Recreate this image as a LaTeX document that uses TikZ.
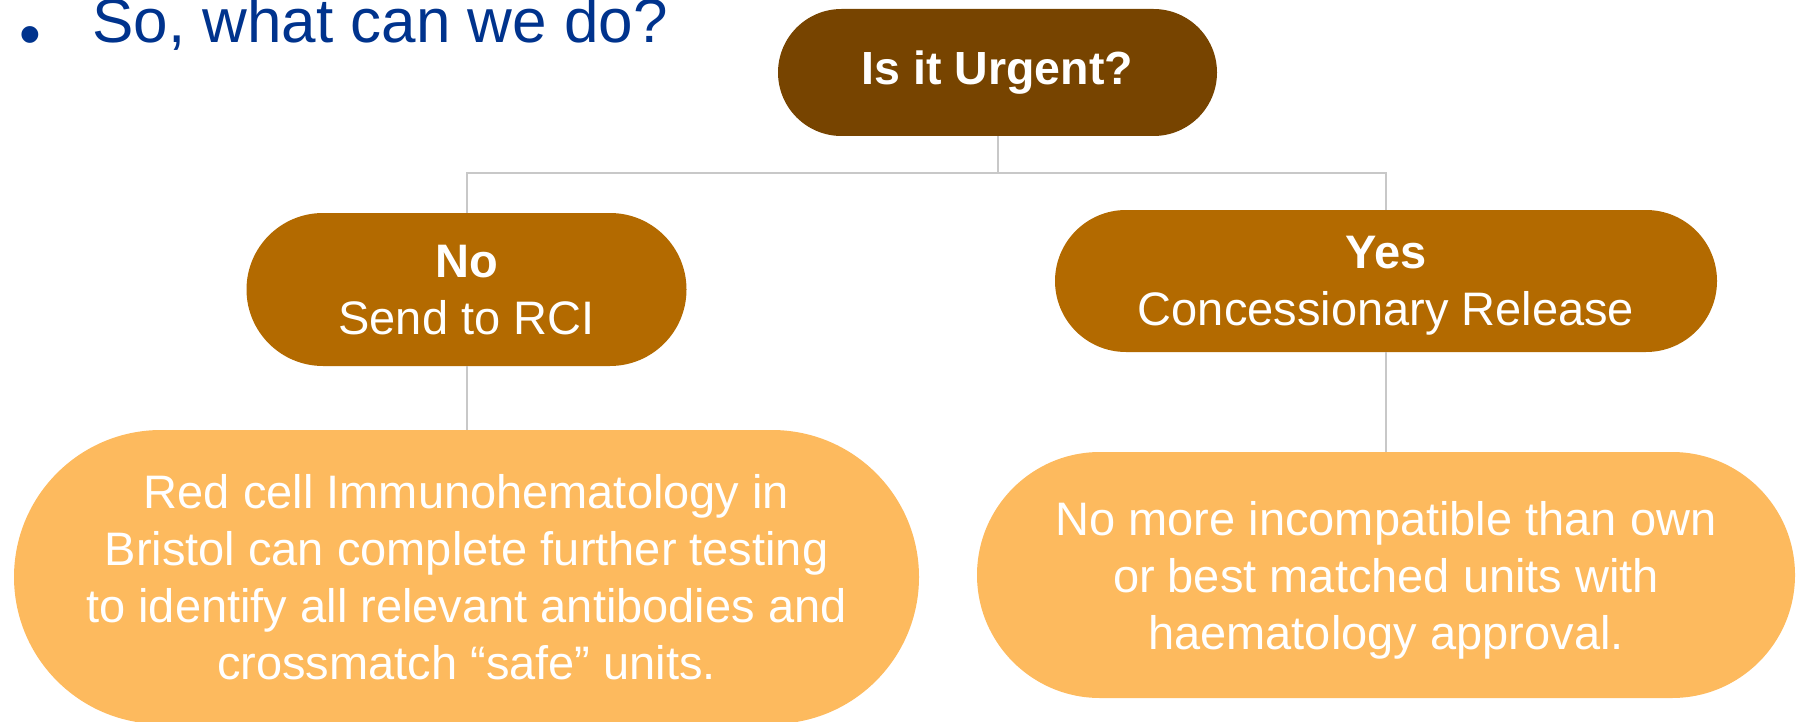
\documentclass[tikz,border=0pt]{standalone}
\usepackage{fontspec}
\setmainfont{Liberation Sans}

\definecolor{urgentbrown}{HTML}{774400}
\definecolor{answerbrown}{HTML}{B36A00}
\definecolor{actionorange}{HTML}{FDBA5E}
\definecolor{linkgrey}{HTML}{C8C8C8}
\definecolor{slideblue}{HTML}{00338D}

\tikzset{
  pill/.style 2 args={rectangle, minimum width=#1pt, minimum height=#2pt,
    rounded corners=#2pt/2},
}

\begin{document}
\begin{tikzpicture}[x=1pt,y=-1pt]
        \tikzstyle{every node}+=[inner sep=0pt, align=center]
        \tikzstyle{bodytext}=[text=white, text depth=0pt, font=\fontsize{47}{57}\selectfont]
        \tikzstyle{link}=[draw=linkgrey, line width=2pt]
        \useasboundingbox (0,0) rectangle (1806,722);
        % heading line
        \node[text=slideblue, font=\fontsize{62}{70}\selectfont] (bullet) at (30,41) {•};
        \node[anchor=base west, text=slideblue, font=\fontsize{62}{70}\selectfont] (heading) at (92,43) {So, what can we do?};
        % decision
        \node[pill={439}{127}, fill=urgentbrown, text=white, font=\fontsize{46.5}{56}\bfseries] (urgent) at (997.5,72.5) {Is it Urgent?};
        \node[pill={440}{153}, fill=answerbrown, bodytext] (no) at (466.5,289.5) {\textbf{No}\\Send to RCI};
        \node[pill={662}{142}, fill=answerbrown, bodytext] (yes) at (1386,281) {\textbf{Yes}\\Concessionary Release};
        % outcomes
        \node[pill={905}{294}, fill=actionorange, bodytext] (rci) at (466.5,577) {Red cell Immunohematology in\\Bristol can complete further testing\\to identify all relevant antibodies and\\crossmatch “safe” units.};
        \node[pill={818}{246}, fill=actionorange, bodytext] (release) at (1386,575) {No more incompatible than own\\or best matched units with\\haematology approval.};
        % connectors
        \draw[link] (urgent.south) -- ++(0,37) -| (no.north);
        \draw[link] (urgent.south) -- ++(0,37) -| (yes.north);
        \draw[link] (no.south) -- (rci.north);
        \draw[link] (yes.south) -- (release.north);
\end{tikzpicture}
\end{document}
